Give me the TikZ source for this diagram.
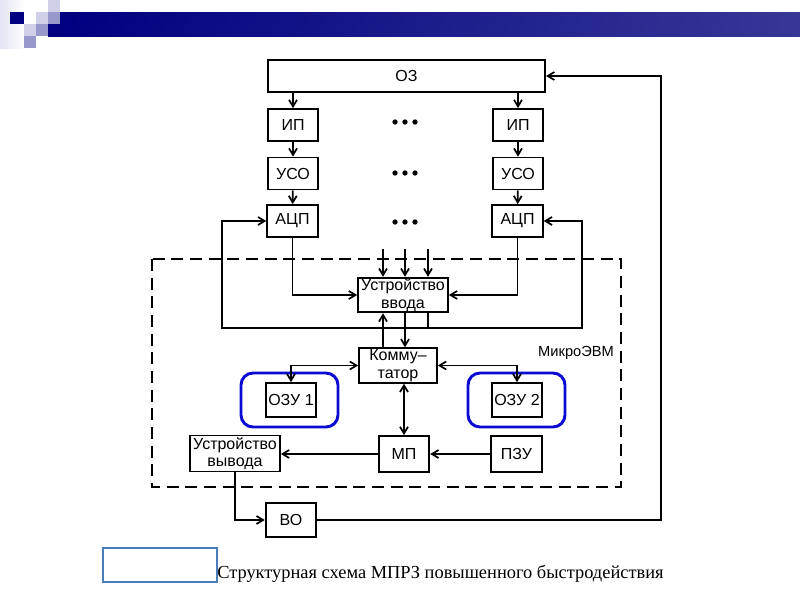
\documentclass[tikz,border=0pt]{standalone}
\usepackage{fontspec}
\setmainfont{Liberation Sans}
\newfontfamily\capfont{Liberation Serif}
\usetikzlibrary{arrows.meta}
\definecolor{barnavy}{RGB}{0,0,128}
\definecolor{barlight}{RGB}{55,55,150}
\definecolor{sqlight}{RGB}{208,208,232}
\definecolor{sqmid}{RGB}{152,152,204}
\definecolor{ozublue}{RGB}{10,10,210}
\definecolor{capblue}{RGB}{74,126,187}

\begin{document}
\begin{tikzpicture}[x=0.75pt,y=0.75pt,yscale=-1,xscale=1,
  blk/.style={draw, line width=1.3pt, inner sep=0pt, minimum width=38pt, minimum height=24pt,
    align=center, font=\fontsize{12}{13}\selectfont},
  wide/.style={minimum width=67.5pt, minimum height=26pt},
  arr/.style={line width=1.3pt, -{Straight Barb[length=5pt,width=6pt]}},
  darr/.style={line width=1.3pt, {Straight Barb[length=5pt,width=6pt]}-{Straight Barb[length=5pt,width=6pt]}},
  ozuframe/.style={draw=ozublue, line width=2.2pt, rounded corners=9pt},
  dots/.style={fill, circle, inner sep=0pt, minimum size=4pt}]
\useasboundingbox (0,0) rectangle (800,600);

%Title bar
\shade[left color=barnavy, right color=barlight] (48,24) rectangle (800,36);
\shade[left color=barnavy, right color=barlight] (60,12) rectangle (800,24);
\shade[left color=sqlight!60, right color=white] (0,0) rectangle (24,48);
\fill[barnavy] (10,12) rectangle (24,24);
\fill[sqlight] (36,12) rectangle (48,24);
\fill[sqlight] (48,0) rectangle (60,12);
\fill[sqlight] (24,24) rectangle (36,36);
\fill[sqmid] (48,12) rectangle (60,24);
\fill[sqmid] (36,24) rectangle (48,36);
\fill[sqmid] (24,36) rectangle (36,48);

%MicroEVM frame
\draw[line width=1.3pt, dash pattern=on 9pt off 5pt] (152,259) rectangle (621,487);
\draw (576,353) node [font=\fontsize{11}{13}\selectfont] (micro) {МикроЭВМ};

% Blocks
\draw (406.5,76) node [blk, minimum width=208pt] (oz) {ОЗ};
\draw (293,125) node [blk] (ip1) {ИП};
\draw (518,125) node [blk] (ip2) {ИП};
\draw (293,173.5) node [blk] (uso1) {УСО};
\draw (518,173.5) node [blk] (uso2) {УСО};
\draw (292.5,221) node [blk] (adc1) {АЦП};
\draw (517.5,221) node [blk] (adc2) {АЦП};
\draw (403,295) node [blk, wide] (vvod) {Устройство\\ввода};
\draw (398,365.5) node [blk, minimum width=58.5pt, minimum height=26pt] (komm) {Комму–\\татор};
\draw (291,400) node [blk, minimum height=25.5pt] (ozu1) {ОЗУ 1};
\draw (517,400) node [blk, minimum height=25.5pt] (ozu2) {ОЗУ 2};
\draw (404,454) node [blk, minimum height=27pt] (mp) {МП};
\draw (516.5,454) node [blk, minimum height=27pt] (pzu) {ПЗУ};
\draw (235,453.5) node [blk, wide, minimum height=27pt] (vyvod) {Устройство\\вывода};
\draw (291,520) node [blk, minimum height=25.5pt] (vo) {ВО};

%Dots
\foreach \y in {122,173,222}
  \foreach \x in {395,405,415}
    \node[dots] at (\x,\y) {};

%OZU frames
\draw[ozuframe] (241,373) rectangle (338,427);
\draw[ozuframe] (468,373) rectangle (565,427);

%Channels
\draw[arr] (ip1.north |- oz.south) -- (ip1.north);
\draw[arr] (ip2.north |- oz.south) -- (ip2.north);
\draw[arr] (ip1) -- (uso1);
\draw[arr] (ip2) -- (uso2);
\draw[arr] (uso1) -- (adc1);
\draw[arr] (uso2) -- (adc2);
\draw[arr] (adc1.south) |- (vvod.west);
\draw[arr] (adc2.south) |- (vvod.east);
\coordinate (in1) at (383,249);
\coordinate (in2) at (405,249);
\coordinate (in3) at (428,249);
\foreach \c in {in1,in2,in3}
  \draw[arr] (\c) -- (vvod.north -| \c);

%Feedback to ADC
\coordinate (fb) at (428,328);
\coordinate (fbl) at (222,328);
\coordinate (fbr) at (582,328);
\draw[line width=1.3pt] (vvod.south -| fb) -- (fb);
\draw[arr] (fb) -- (fbl) |- (adc1.west);
\draw[arr] (fb) -- (fbr) |- (adc2.east);

%Microcomputer links
\draw[arr] (komm.north -| in1) -- (vvod.south -| in1);
\draw[arr] (vvod.south -| in2) -- (komm.north -| in2);
\draw[darr] (komm.west) -| (ozu1.north);
\draw[darr] (komm.east) -| (ozu2.north);
\draw[darr] (mp.north |- komm.south) -- (mp.north);
\draw[arr] (pzu.west) -- (mp.east);
\draw[arr] (mp.west) -- (vyvod.east |- mp.west);
\draw[arr] (vyvod.south) |- (vo.west);
\coordinate (ret) at (661,520);
\draw[arr] (vo.east) -- (ret) |- (oz.east);

%Caption
\draw[capblue, line width=0.8pt] (103,548) rectangle (217,582);
\draw (217,578) node [anchor=base west, inner sep=0pt, font=\capfont\fontsize{13.8}{16}\selectfont] (cap) {Структурная схема МПРЗ повышенного быстродействия};

\end{tikzpicture}
\end{document}
